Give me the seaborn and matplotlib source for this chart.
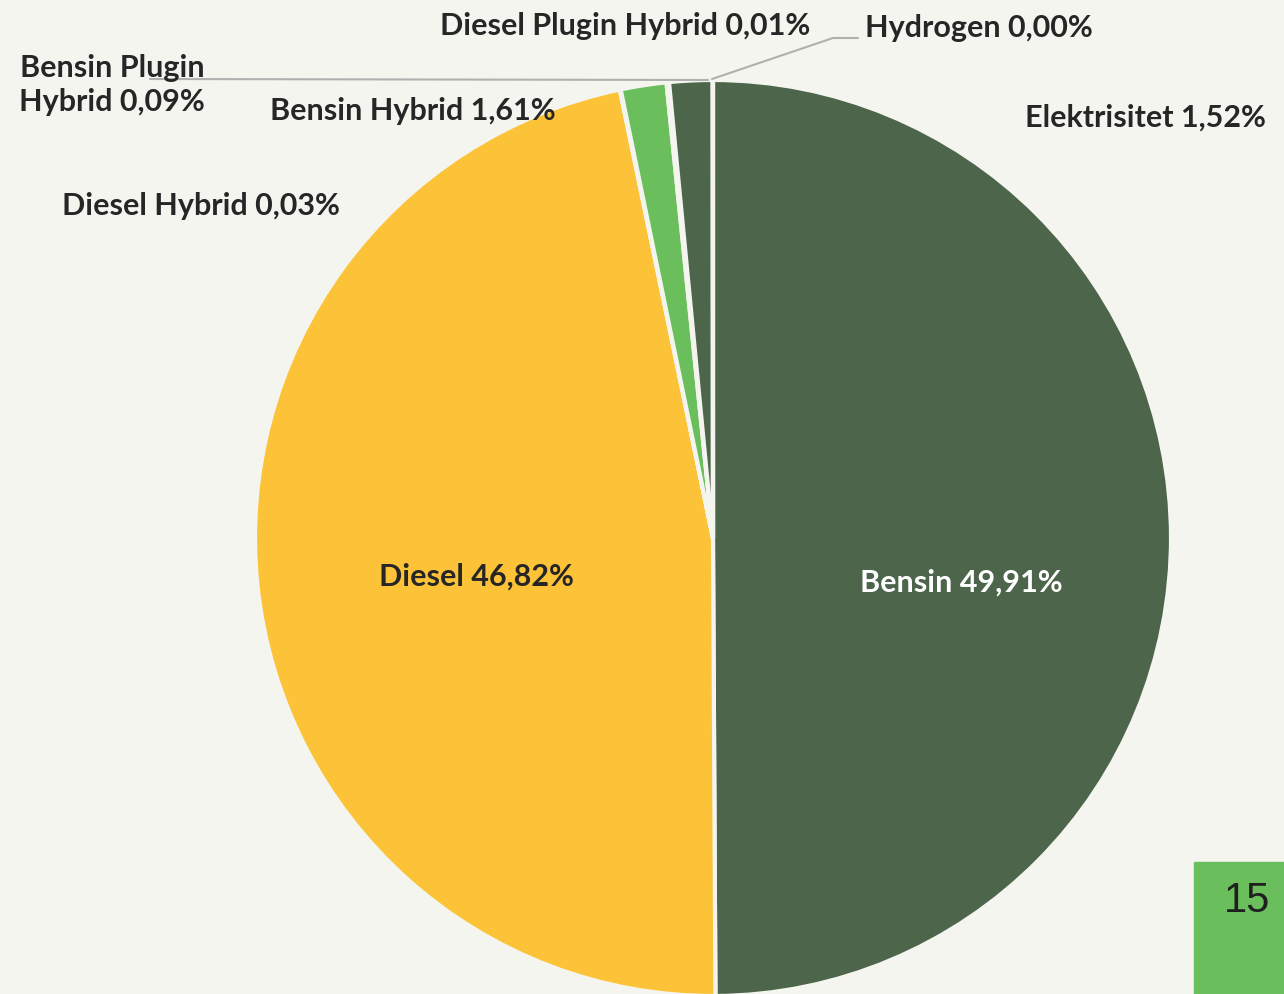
import numpy as np
import pandas as pd
import seaborn as sns
import matplotlib.pyplot as plt

labels = ['Bensin', 'Diesel', 'Diesel Hybrid', 'Bensin Hybrid', 'Bensin Plugin Hybrid',
          'Elektrisitet', 'Diesel Plugin Hybrid', 'Hydrogen']
values = [49.91, 46.82, 0.03, 1.61, 0.09, 1.52, 0.01, 0.00]
colors = ['#4c654b', '#fdc338', '#fdc338', '#6abf5c', '#6abf5c', '#4c654b', '#4c654b', '#4c654b']
page_no = '15'

bg = '#f5f5ef'
sns.set_style('white')
plt.rcParams['font.family'] = ['Lato', 'DejaVu Sans']

fig = plt.figure(figsize=(12.84, 9.94), dpi=100, facecolor=bg)
ax = fig.add_axes([0, 0, 1, 1])
ax.set_facecolor(bg)
ax.axis('off')

# pie in pixel space (y up)
ax.pie(values, colors=colors, startangle=90, counterclock=False,
       center=(713, 994 - 538), radius=458,
       wedgeprops=dict(edgecolor=bg, linewidth=3))
ax.set_xlim(0, 1284)
ax.set_ylim(0, 994)

def lab(i):
    return f'{labels[i]} {values[i]:.2f}%'.replace('.', ',')

fs = 22
txt = dict(fontsize=fs, fontweight='bold', color='#262626', va='center')
Y = lambda y: 994 - y
ax.text(860, Y(583), lab(0), ha='left', color='white', fontsize=fs, fontweight='bold', va='center')
ax.text(379, Y(577), lab(1), ha='left', **txt)
ax.text(62, Y(206), lab(2), ha='left', **txt)
ax.text(270, Y(111), lab(3), ha='left', **txt)
ax.text(112, Y(85), 'Bensin Plugin\n' + lab(4).replace('Bensin Plugin ', ''), ha='center',
        linespacing=1.25, **txt)
ax.text(1025, Y(118), lab(5), ha='left', **txt)
ax.text(440, Y(26), lab(6), ha='left', **txt)
ax.text(865, Y(28), lab(7), ha='left', **txt)

# leader lines
ax.plot([150, 708], [Y(79), Y(80)], color='#b0b0b0', lw=1.5)
ax.plot([712, 833, 858], [Y(79), Y(38), Y(38)], color='#b0b0b0', lw=1.5)

# page number box
ax.add_patch(plt.Rectangle((1194, 0), 90, 994 - 862, color='#6abf5c', zorder=5))
ax.text(1247, Y(901), page_no, ha='center', va='center', fontsize=30,
        family=['Liberation Sans', 'DejaVu Sans'], color='#1f1f1f', zorder=6)

fig.savefig('out.png', dpi=100, facecolor=bg)
